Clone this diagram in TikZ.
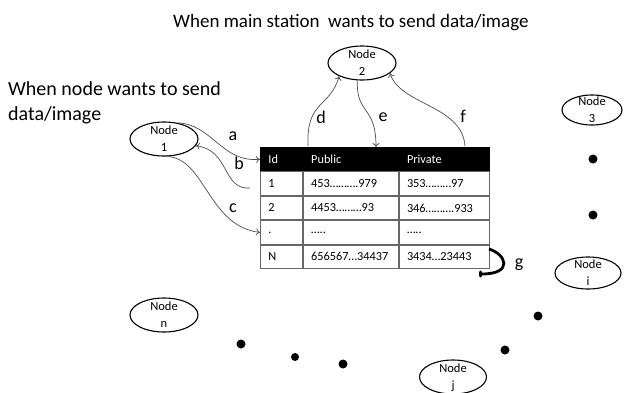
\documentclass[tikz,border=0pt]{standalone}
\usepackage{fontspec}
\setmainfont{Carlito}
\usetikzlibrary{arrows.meta,shapes.geometric}
\newcommand{\ndtext}[1]{\smash{\raisebox{-3.5pt}{\begin{tabular}{@{}c@{}}Node\\[1pt]#1\end{tabular}}}}
\begin{document}
\begin{tikzpicture}[x=1pt,y=-1pt,
  nd/.style={ellipse,draw,line width=1.1pt,minimum width=#1,minimum height=34pt,inner sep=0pt,font=\fontsize{12.5}{16.5}\selectfont},
  nd/.default=68pt,
  big/.style={font=\fontsize{19}{25}\selectfont,inner sep=0pt},
  big2/.style={font=\fontsize{20}{25}\selectfont,inner sep=0pt},
  lab/.style={font=\fontsize{18}{20}\selectfont,inner sep=0pt},
  conn/.style={draw=black!70,line width=0.7pt,-{To[length=4pt,width=7pt]}},
  cell/.style={draw=black!60,line width=0.8pt,anchor=north west,minimum height=23.6pt,inner xsep=8pt,inner ysep=0pt,align=left,font=\fontsize{12.3}{14}\selectfont},
  hcell/.style={cell,fill=black,draw=black,text=white},
  dot/.style={circle,fill=black,inner sep=0pt,minimum size=#1},
  dot/.default=9pt]
\useasboundingbox (0,0) rectangle (630,392);
% titles
\node[big,anchor=base west] (t1) at (173,27) {When main station\ \ wants to send data/image};
\node[big2,anchor=base west] (t2) at (8,95) {When node wants to send};
\node[big2,anchor=base west] (t3) at (8,120) {data/image};
% nodes
\node[nd] (n1) at (164,139) {\ndtext{1}};
\node[nd] (n2) at (362,63) {\ndtext{2}};
\node[nd=60pt,minimum height=30pt] (n3) at (592,110) {\ndtext{3}};
\node[nd=66pt,minimum height=32pt] (ni) at (588,273) {\ndtext{i}};
\node[nd] (nn) at (164,315) {\ndtext{n}};
\node[nd=67pt] (nj) at (453,377) {\ndtext{j}};
% table
\node[hcell,text width=26pt] (h1) at (260,147) {Id};
\node[hcell,text width=79pt] (h2) at (h1.north east) {Public};
\node[hcell,text width=74pt] (h3) at (h2.north east) {Private};
\node[cell,text width=26pt] (r11) at (h1.south west) {1};
\node[cell,text width=79pt] (r12) at (r11.north east) {453……….979};
\node[cell,text width=74pt] (r13) at (r12.north east) {353………97};
\node[cell,text width=26pt] (r21) at (r11.south west) {2};
\node[cell,text width=79pt] (r22) at (r21.north east) {4453………93};
\node[cell,text width=74pt] (r23) at (r22.north east) {346……….933};
\node[cell,text width=26pt] (r31) at (r21.south west) {.};
\node[cell,text width=79pt] (r32) at (r31.north east) {…..};
\node[cell,text width=74pt] (r33) at (r32.north east) {…..};
\node[cell,text width=26pt] (r41) at (r31.south west) {N};
\node[cell,text width=79pt] (r42) at (r41.north east) {656567…34437};
\node[cell,text width=74pt] (r43) at (r42.north east) {3434…23443};
\coordinate (bst) at (250,188);
\coordinate (dst) at (308,146);
\coordinate (fst) at (465,146);
% connectors
\draw[conn] (n1.50) .. controls (212,124) and (222,163) .. (h1.west);
\draw[conn] (bst) .. controls (222,190) and (230,150) .. (n1.-12);
\draw[conn] (n1.-80) .. controls (205,158) and (208,226) .. (r31.west);
\draw[conn] (dst) .. controls (306,100) and (330,108) .. (n2.-150);
\draw[conn] (n2.-105) .. controls (356,115) and (376,105) .. (376,147);
\draw[conn] (fst) .. controls (462,105) and (400,105) .. (n2.-20);
\coordinate (gs) at (489,249);
\draw[line width=2.8pt,-{To[length=3pt,width=7pt]}] (gs) .. controls (506,254) and (514,274) .. (479,274);
% labels
\node[lab] (la) at (233,136) {a};
\node[lab] (lb) at (239,163) {b};
\node[lab] (lc) at (233,208) {c};
\node[lab] (ld) at (321,117) {d};
\node[lab] (le) at (383,117) {e};
\node[lab] (lf) at (463,116) {f};
\node[lab] (lg) at (519,265) {g};
% dots
\node[dot] (d1) at (593,159) {};
\node[dot] (d2) at (593,215) {};
\node[dot] (d3) at (538,316) {};
\node[dot] (d4) at (505,350) {};
\node[dot] (d5) at (241,344) {};
\node[dot=8pt] (d6) at (295,357) {};
\node[dot] (d7) at (343,364) {};
\end{tikzpicture}
\end{document}
